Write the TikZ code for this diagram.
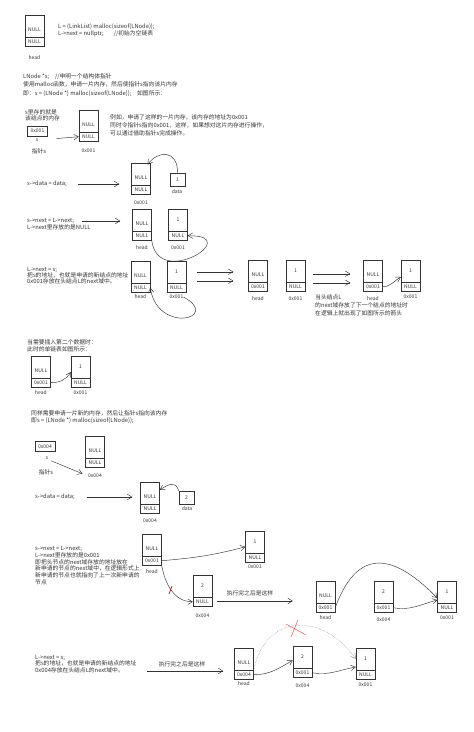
\documentclass[tikz,border=0pt]{standalone}
\usepackage{fontspec}
\setmainfont{Noto Sans CJK SC}
\usetikzlibrary{arrows.meta}

\begin{document}
\begin{tikzpicture}[x=1pt, y=1pt, line width=0.45pt, color=black!80,
    datafield/.style={draw, minimum width=19pt, minimum height=22pt, inner sep=0pt, anchor=south, font=\fontsize{5}{6}\selectfont},
    nextfield/.style={draw, minimum width=19pt, minimum height=9pt, inner sep=0pt, anchor=north, font=\fontsize{5}{6}\selectfont},
    addr/.style={inner sep=0pt, font=\fontsize{5}{6}\selectfont},
    smallbox/.style={draw, minimum width=20pt, minimum height=10pt, inner sep=0pt, font=\fontsize{5}{6}\selectfont},
    databox/.style={draw, minimum width=15pt, minimum height=13pt, inner sep=0pt, font=\fontsize{5}{6}\selectfont},
    note/.style={inner sep=0pt, align=left, anchor=north west, font=\fontsize{5.8}{7}\selectfont},
    arr/.style={-{Straight Barb[length=4.5pt, width=5.5pt]}}
]
    \useasboundingbox (0,0) rectangle (474,-732);

    % List nodes: name / x / divider y / data / next / label / label y / text height
    \foreach \n/\x/\y/\t/\b/\l/\ly/\th in {
        h0/34.5/37/NULL/NULL/head/58/11pt,
        n0/88.5/132/NULL/NULL/0x001/151/11pt,
        a1/141/185/NULL/NULL/0x001/203/11pt,
        b1/142/231/NULL/NULL/head/248/11pt,
        b2/178/231/1/NULL/0x001/248/4pt,
        c1/140.5/283/NULL/NULL/head/297/11pt,
        c2/176.5/283/1/NULL/0x001/297/4pt,
        d1/258/282/NULL/0x001/head/299/11pt,
        d2/295.5/282/1/NULL/0x001/299/4pt,
        e1/373/282/NULL/0x001/head/299/11pt,
        e2/410.5/282/1/NULL/0x001/297/4pt,
        f1/41/378/NULL/0x001/head/393/11pt,
        f2/80.5/378/1/NULL/0x001/393/4pt,
        g1/95/458/NULL/NULL/0x004/476/11pt,
        h1/150/504/NULL/NULL/0x004/521/11pt,
        i1/152/556/NULL/0x001/head/572/11pt,
        i2/255/553/1/NULL/0x001/567/4pt,
        i3/202.5/597/2/NULL/0x004/616/4pt,
        j1/325.5/603/NULL/0x001/head/618/11pt,
        j2/383.5/603/2/0x001/0x004/620/4pt,
        j3/447/603/1/NULL/0x001/618/4pt,
        k1/244/670/NULL/0x004/head/684/11pt,
        k2/302.5/668/2/0x001/0x004/686/4pt,
        k3/365.5/670/1/NULL/0x001/685/4pt} {
        \node[datafield, text height=\th] (\n) at (\x,-\y) {\t};
        \node[nextfield] (\n-ptr) at (\x,-\y) {\b};
        \node[addr] (\n-addr) at (\x,-\ly) {\l};
    }

    % Pointers and data boxes
    \node[smallbox] (p0) at (37.5,-131) {0x001};
    \node[addr] (s0) at (37,-140) {s};
    \node[addr, font=\fontsize{5.8}{7}\selectfont] (ps0) at (39,-151) {指针s};
    \node[smallbox] (p1) at (45,-446.5) {0x004};
    \node[addr] (s1) at (47,-458) {s};
    \node[addr, font=\fontsize{5.8}{7}\selectfont] (ps1) at (46,-472) {指针s};
    \node[databox] (dat1) at (177.5,-179.5) {1};
    \node[addr] (dat1-addr) at (177,-192) {data};
    \node[databox] (dat2) at (186.5,-497.5) {2};
    \node[addr] (dat2-addr) at (187,-509) {data};

    % Notes
    \node[note, font=\fontsize{5.8}{6.3}\selectfont] (t1) at (58,-24) {L = (LinkList) malloc(sizeof(LNode));\\L->next = nullptr;\hspace{10pt}//初始为空链表};
    \node[note, font=\fontsize{5.8}{8.5}\selectfont] (t2) at (23,-73) {LNode *s;\quad //申明一个结构体指针\\使用malloc函数，申请一片内存，然后使指针s指向该片内存\\即：s = (LNode *) malloc(sizeof(LNode));\quad 如图所示：};
    \node[note, font=\fontsize{5.8}{6}\selectfont] (t2b) at (25,-109) {s里存的就是\\该结点的内存};
    \node[note, font=\fontsize{5.8}{8}\selectfont] (t2c) at (110,-114) {例如，申请了这样的一片内存，该内存的地址为0x001\\同时令指针s指向0x001，这样，如果想对这片内存进行操作，\\可以通过借助指针s完成操作。};
    \node[note] (t3) at (27,-181) {s->data = data;};
    \node[note] (t4) at (27,-218) {s->next = L->next;\\L->next里存放的是NULL};
    \node[note, font=\fontsize{5.8}{6}\selectfont] (t5) at (27,-267) {L->next = s;\\把s的地址，也就是申请的新结点的地址\\0x001存放在头结点L的next域中。};
    \node[note, font=\fontsize{5.8}{8}\selectfont] (t5b) at (315,-294) {当头结点L\\的next域存放了下一个结点的地址时\\在逻辑上就出现了如图所示的箭头};
    \node[note] (t6) at (27,-339) {当需要插入第二个数据时：\\此时的单链表如图所示：};
    \node[note] (t7) at (31,-410) {同样需要申请一片新的内存，然后让指针s指向该内存\\即s = (LNode *) malloc(sizeof(LNode));};
    \node[note] (t8) at (35,-494) {s->data = data;};
    \node[note, font=\fontsize{5.8}{6.8}\selectfont] (t9) at (35,-546) {s->next = L->next;\\L->next里存放的是0x001\\即把头节点的next域存放的地址放在\\新申请的节点的next域中，在逻辑形式上\\新申请的节点也就指向了上一次新申请的\\节点};
    \node[note, font=\fontsize{5.8}{6.5}\selectfont] (t10) at (35,-655) {L->next = s;\\把s的地址，也就是申请的新结点的地址\\0x004存放在头结点L的next域中。};
    \node[addr, font=\fontsize{5.8}{7}\selectfont] (done1) at (250,-593) {执行完之后是这样};
    \node[addr, font=\fontsize{5.8}{7}\selectfont] (done2) at (182,-664) {执行完之后是这样};

    % Step arrows
    \coordinate (go3) at (78,-184);
    \coordinate (go4) at (82,-221);
    \coordinate (go8) at (87,-497);
    \coordinate (go9) at (217,-601);
    \coordinate (go10) at (147,-671);
    \draw[arr, shorten >=12pt] (go3) -- (go3 -| a1.west);
    \draw[arr, shorten >=12pt] (go4) -- (go4 -| b1.west);
    \draw[arr, shorten >=8pt] (go8) -- (go8 -| h1.west);
    \draw[arr, shorten >=23pt] (go9) -- (go9 -| j1.west);
    \draw[arr, shorten >=11pt] (go10) -- (go10 -| k1.west);
    \foreach \dy in {0,9} {
        \draw[arr, shorten <=11pt, shorten >=15pt] ([yshift=-\dy pt]c2.east) -- ([yshift=-\dy pt]c2.east -| d1.west);
        \draw[arr, shorten <=8pt, shorten >=13pt] ([yshift=-3pt-\dy pt]d2.east) -- ([yshift=-3pt-\dy pt]d2.east -| e1.west);
    }

    % Pointer arrows
    \draw[arr, shorten <=18pt] (s0.east) -- (n0-ptr.west);
    \draw[arr, shorten <=3pt, shorten >=6pt] (s1.south east) -- (g1-addr.west);
    \draw[arr] (dat1.north) .. controls (178,-150) and (158,-150) .. ([xshift=-3pt,yshift=-2pt]a1.north east);
    \draw[arr] (dat2.north west) to[out=110, in=30, looseness=1.5] ([yshift=3pt]h1.east);

    % Next links
    \draw[arr] (b1-ptr.south east) .. controls (158,-290) and (245,-235) .. (b2-ptr.east);
    \draw[arr] (c2-addr.east) .. controls (222,-318) and (158,-335) .. (c1-ptr.east);
    \draw[arr] (e1-ptr.east) to[out=0, in=-150] ([yshift=5pt]e2.south west);
    \draw[arr] (f1-ptr.east) to[out=0, in=-120] ([yshift=6pt]f2.south west);
    \draw[arr] (i1-ptr.east) to[out=5, in=195] ([yshift=-5pt]i2.west);
    \draw[arr] (i1-ptr.south east) to[out=-80, in=180] (i3-ptr.west);
    \draw[red!80!black, line width=0.7pt] (169,-594) -- (172,-586);
    \draw[arr] (j1-ptr.east) .. controls (360,-540) and (400,-560) .. ([yshift=5pt]j3.south west);
    \draw[arr] (j2-ptr.east) to[out=-10, in=195] ([yshift=3pt]j3.south west);
    \draw[arr] (k1-ptr.east) to[out=0, in=-150] ([yshift=-3.5pt]k2.west);
    \draw[arr] (k2-ptr.east) to[out=-10, in=190] ([yshift=3pt]k3.south west);
    \draw[arr, densely dotted, black!50] (k1-ptr.north east) .. controls (265,-615) and (320,-610) .. (k3.west);
    \draw[red!70, line width=0.5pt] (286,-624) -- (306,-635) (291,-637) -- (298,-620);
\end{tikzpicture}
\end{document}
